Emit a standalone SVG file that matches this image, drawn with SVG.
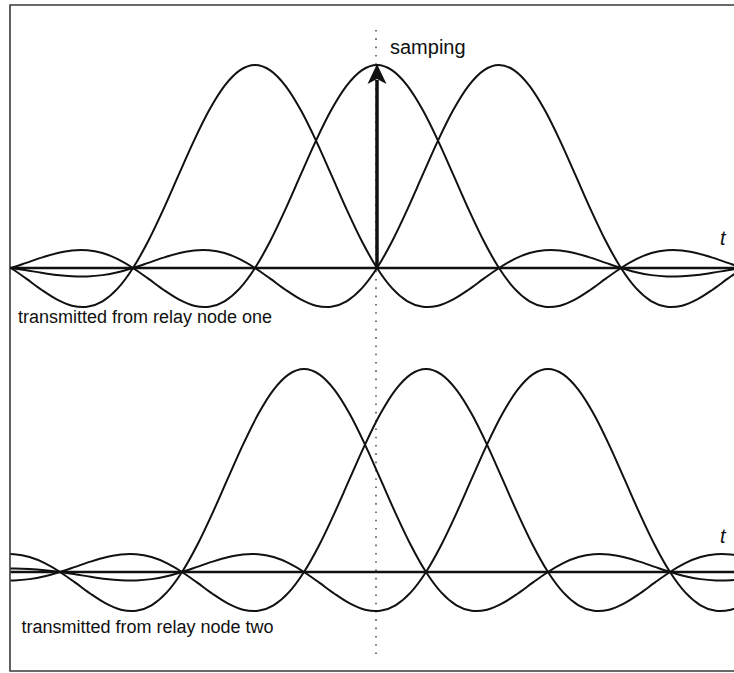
<svg xmlns="http://www.w3.org/2000/svg" xmlns:xlink="http://www.w3.org/1999/xlink" width="734" height="673" viewBox="0 0 734 673">
<style>
.frame{fill:none;stroke:#3a3a3a;stroke-width:1.6}
.axis{stroke:#111;stroke-width:2.6}
.curve{fill:none;stroke:#111;stroke-width:2;stroke-linejoin:round}
.dots{stroke:#666;stroke-width:1.8;stroke-dasharray:1.6 6.7}
.lbl{font-family:"Liberation Sans",Arial,sans-serif;fill:#111}
.tl{font-family:"Liberation Sans",Arial,sans-serif;font-style:italic;fill:#111;font-size:20px}
</style>
<defs>
<clipPath id="plotclip"><rect x="10.5" y="0" width="724" height="673"/></clipPath>
<path id="pulse" class="curve" d="M-549,-3.27 C-543.92,-3.41 -538.83,-3.50 -533.75,-3.45 C-528.67,-3.41 -523.58,-3.27 -518.5,-3.00 C-513.42,-2.73 -508.33,-2.33 -503.25,-1.83 C-498.17,-1.33 -493.08,-0.69 -488,0 C-482.92,0.69 -477.83,1.52 -472.75,2.31 C-467.67,3.10 -462.58,3.99 -457.5,4.75 C-452.42,5.52 -447.33,6.31 -442.25,6.90 C-437.17,7.49 -432.08,8.01 -427,8.27 C-421.92,8.53 -416.83,8.63 -411.75,8.44 C-406.67,8.25 -401.58,7.82 -396.5,7.12 C-391.42,6.42 -386.33,5.43 -381.25,4.24 C-376.17,3.05 -371.08,1.56 -366,0 C-360.92,-1.56 -355.83,-3.39 -350.75,-5.12 C-345.67,-6.85 -340.58,-8.74 -335.5,-10.36 C-330.42,-11.98 -325.33,-13.63 -320.25,-14.83 C-315.17,-16.03 -310.08,-17.09 -305,-17.58 C-299.92,-18.07 -294.83,-18.23 -289.75,-17.79 C-284.67,-17.35 -279.58,-16.41 -274.5,-14.92 C-269.42,-13.43 -264.33,-11.34 -259.25,-8.85 C-254.17,-6.36 -249.08,-3.25 -244,0 C-238.92,3.25 -233.83,7.05 -228.75,10.67 C-223.67,14.29 -218.58,18.28 -213.5,21.73 C-208.42,25.18 -203.33,28.72 -198.25,31.38 C-193.17,34.04 -188.08,36.44 -183,37.68 C-177.92,38.92 -172.83,39.54 -167.75,38.81 C-162.67,38.09 -157.58,36.40 -152.5,33.33 C-147.42,30.26 -142.33,25.96 -137.25,20.40 C-132.17,14.85 -127.08,7.90 -122,0 C-116.92,-7.90 -111.83,-17.20 -106.75,-27.02 C-101.67,-36.84 -96.58,-47.88 -91.5,-58.94 C-86.42,-70.00 -81.33,-81.96 -76.25,-93.36 C-71.17,-104.76 -66.08,-116.61 -61,-127.36 C-55.92,-138.12 -50.83,-148.77 -45.75,-157.89 C-40.67,-167.01 -35.58,-175.48 -30.5,-182.10 C-25.42,-188.73 -20.33,-194.16 -15.25,-197.64 C-10.17,-201.12 -5.08,-203 0,-203 C5.08,-203 10.17,-201.12 15.25,-197.64 C20.33,-194.16 25.42,-188.73 30.5,-182.10 C35.58,-175.48 40.67,-167.01 45.75,-157.89 C50.83,-148.77 55.92,-138.12 61,-127.36 C66.08,-116.61 71.17,-104.76 76.25,-93.36 C81.33,-81.96 86.42,-70.00 91.5,-58.94 C96.58,-47.88 101.67,-36.84 106.75,-27.02 C111.83,-17.20 116.92,-7.90 122,0 C127.08,7.90 132.17,14.85 137.25,20.40 C142.33,25.96 147.42,30.26 152.5,33.33 C157.58,36.40 162.67,38.09 167.75,38.81 C172.83,39.54 177.92,38.92 183,37.68 C188.08,36.44 193.17,34.04 198.25,31.38 C203.33,28.72 208.42,25.18 213.5,21.73 C218.58,18.28 223.67,14.29 228.75,10.67 C233.83,7.05 238.92,3.25 244,0 C249.08,-3.25 254.17,-6.36 259.25,-8.85 C264.33,-11.34 269.42,-13.43 274.5,-14.92 C279.58,-16.41 284.67,-17.35 289.75,-17.79 C294.83,-18.23 299.92,-18.07 305,-17.58 C310.08,-17.09 315.17,-16.03 320.25,-14.83 C325.33,-13.63 330.42,-11.98 335.5,-10.36 C340.58,-8.74 345.67,-6.85 350.75,-5.12 C355.83,-3.39 360.92,-1.56 366,0 C371.08,1.56 376.17,3.05 381.25,4.24 C386.33,5.43 391.42,6.42 396.5,7.12 C401.58,7.82 406.67,8.25 411.75,8.44 C416.83,8.63 421.92,8.53 427,8.27 C432.08,8.01 437.17,7.49 442.25,6.90 C447.33,6.31 452.42,5.52 457.5,4.75 C462.58,3.99 467.67,3.10 472.75,2.31 C477.83,1.52 482.92,0.69 488,0 C493.08,-0.69 498.17,-1.33 503.25,-1.83 C508.33,-2.33 513.42,-2.73 518.5,-3.00 C523.58,-3.27 528.67,-3.41 533.75,-3.45 C538.83,-3.50 543.92,-3.41 549,-3.27"/>
</defs>
<rect x="0" y="0" width="734" height="673" fill="#fff"/>
<path class="frame" d="M735,5 H10 V671 H735"/>
<line class="dots" x1="376" y1="30" x2="376" y2="656"/>
<g id="plot-one" clip-path="url(#plotclip)">
<line class="axis" x1="10" y1="268" x2="734" y2="268"/>
<use xlink:href="#pulse" href="#pulse" transform="translate(255,268)"/>
<use xlink:href="#pulse" href="#pulse" transform="translate(377,268)"/>
<use xlink:href="#pulse" href="#pulse" transform="translate(499,268)"/>
</g>
<g id="plot-two" clip-path="url(#plotclip)">
<line class="axis" x1="10" y1="572" x2="734" y2="572"/>
<use xlink:href="#pulse" href="#pulse" transform="translate(304,572)"/>
<use xlink:href="#pulse" href="#pulse" transform="translate(426,572)"/>
<use xlink:href="#pulse" href="#pulse" transform="translate(548,572)"/>
</g>
<g id="sampling-arrow">
<line x1="377" y1="268" x2="377" y2="80" stroke="#111" stroke-width="3.5"/>
<polygon points="377,64 386.5,84 377,79 367.5,84" fill="#111"/>
</g>
<text class="lbl" x="390" y="54" font-size="20">samping</text>
<text class="tl" x="720" y="245">t</text>
<text class="tl" x="720" y="543">t</text>
<text class="lbl" x="18" y="323" font-size="18">transmitted from relay node one</text>
<text class="lbl" x="21.5" y="633" font-size="18">transmitted from relay node two</text>
</svg>
